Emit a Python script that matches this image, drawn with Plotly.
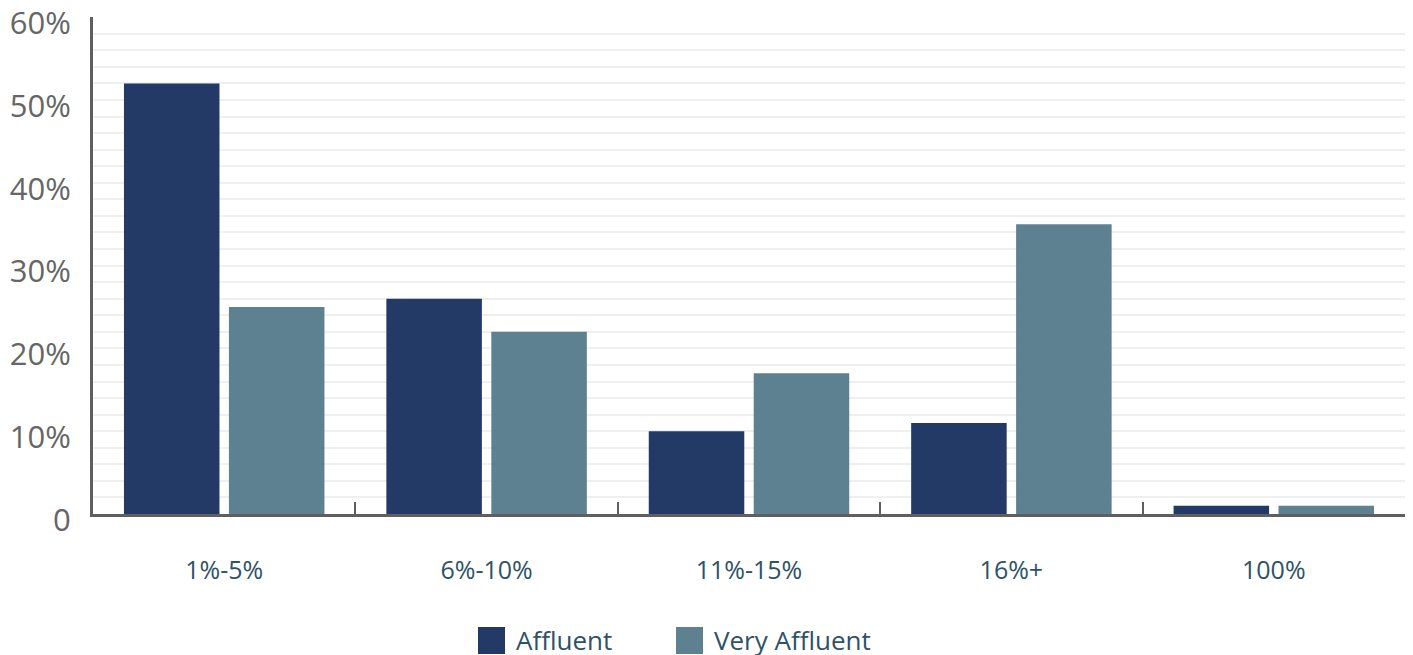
import plotly.graph_objects as go

# Share of respondents by allocation bucket
categories = ["1%-5%", "6%-10%", "11%-15%", "16%+", "100%"]
affluent = [52, 26, 10, 11, 1]
very_affluent = [25, 22, 17, 35, 1]

series_names = ["Affluent", "Very Affluent"]
series_colors = ["#233966", "#5e8191"]

y_tickvals = [0, 10, 20, 30, 40, 50, 60]
y_ticktext = ["0", "10%", "20%", "30%", "40%", "50%", "60%"]

FONT = "Open Sans"
AXIS_COLOR = "#5f5f5f"
LABEL_COLOR = "#2e5266"

fig = go.Figure()
for name, vals, color in zip(series_names, [affluent, very_affluent], series_colors):
    fig.add_trace(go.Bar(
        x=categories, y=vals, name=name,
        marker=dict(color=color, line=dict(width=0)),
        showlegend=False,
        hoverinfo="x+y+name",
    ))

# Custom legend: large colour swatches with labels under the chart
legend_items = [(series_names[0], series_colors[0], 478), (series_names[1], series_colors[1], 676)]
W, H = 1413, 655
L, R, T, B = 93, 8, 17, 141
pw, ph = W - L - R, H - T - B
shapes = []
annotations = []
for name, color, px in legend_items:
    shapes.append(dict(type="rect", xref="paper", yref="paper",
                       x0=(px - L) / pw, x1=(px + 27 - L) / pw,
                       y0=(H - B - 654) / ph, y1=(H - B - 627) / ph,
                       fillcolor=color, line=dict(width=0)))
    annotations.append(dict(xref="paper", yref="paper",
                            x=(px + 36 - L) / pw, y=(H - B - 640) / ph,
                            xanchor="left", yanchor="middle", showarrow=False,
                            text=name, font=dict(family=FONT, size=26, color=LABEL_COLOR)))

fig.update_layout(
    width=W, height=H,
    margin=dict(l=L, r=R, t=T, b=B, pad=0, autoexpand=False),
    paper_bgcolor="white", plot_bgcolor="white",
    barmode="group", bargap=0.2, bargroupgap=0.09,
    font=dict(family=FONT),
    shapes=shapes, annotations=annotations,
    xaxis=dict(
        type="category",
        showline=True, linecolor=AXIS_COLOR, linewidth=3,
        ticks="inside", tickson="boundaries", ticklen=12, tickwidth=2, tickcolor=AXIS_COLOR,
        showgrid=False,
        tickfont=dict(family=FONT, size=25, color=LABEL_COLOR),
        ticklabelstandoff=32,
        automargin=False,
        fixedrange=True,
    ),
    yaxis=dict(
        range=[0, 60.02],
        tickmode="array", tickvals=y_tickvals, ticktext=y_ticktext,
        tickfont=dict(family=FONT, size=31, color="#666666"),
        ticks="", ticklabelstandoff=13, ticklabelshift=6,
        ticklabeloverflow="allow",
        automargin=False,
        showline=True, linecolor=AXIS_COLOR, linewidth=3,
        showgrid=True, gridcolor="#efefef", gridwidth=2,
        minor=dict(dtick=2, showgrid=True, gridcolor="#efefef", gridwidth=2),
        zeroline=False,
        fixedrange=True,
    ),
)

fig.write_html("out.html")
